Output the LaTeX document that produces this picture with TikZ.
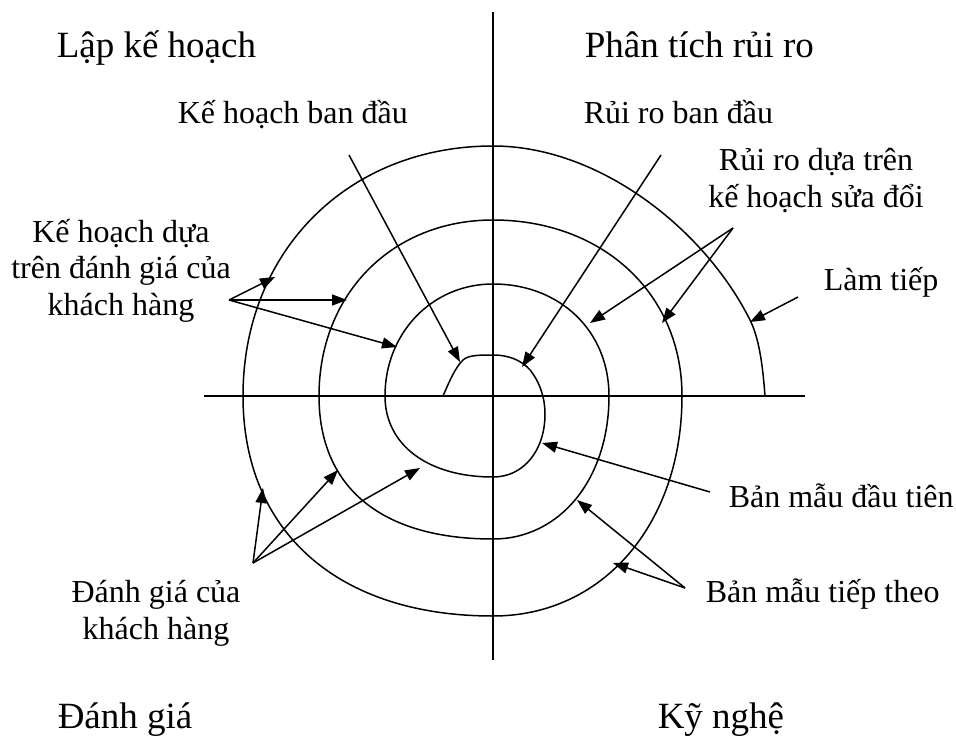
\documentclass[tikz,border=0pt]{standalone}
\usepackage{fontspec}
\setmainfont{Liberation Serif}
\usetikzlibrary{arrows.meta}
\tikzset{
  title/.style={font=\fontsize{37}{40}\selectfont,anchor=base west,inner sep=0pt},
  lbl/.style={font=\fontsize{32}{36.5}\selectfont,inner sep=0pt},
  ptr/.style={-{Triangle[length=15pt,width=11pt]}}
}
\begin{document}
\begin{tikzpicture}[x=1pt,y=-1pt,line width=1.5pt]
  \useasboundingbox (0,0) rectangle (956,736);
  \draw (493,12) -- (493,660);
  \draw (204,396) -- (805,396);

  \node[title] (plan) at (56,57) {Lập kế hoạch};
  \node[title] (risk) at (584,57) {Phân tích rủi ro};
  \node[title] (eval) at (57,728) {Đánh giá};
  \node[title] (eng) at (657,728) {Kỹ nghệ};

  \node[lbl,anchor=base west] (kbd) at (177,123) {Kế hoạch ban đầu};
  \node[lbl,anchor=base west] (rbd) at (583,123) {Rủi ro ban đầu};
  \node[lbl,align=center,anchor=base] (rdt) at (816,207) {Rủi ro dựa trên\\kế hoạch sửa đổi};
  \node[lbl,anchor=base west] (ltp) at (823,290) {Làm tiếp};
  \node[lbl,align=center,anchor=base] (khd) at (121,315) {Kế hoạch dựa\\trên đánh giá của\\khách hàng};
  \node[lbl,align=center,anchor=base] (dgk) at (156,639) {Đánh giá của\\khách hàng};
  \node[lbl,anchor=base west] (bmd) at (728,507) {Bản mẫu đầu tiên};
  \node[lbl,anchor=base west] (bmt) at (705,602) {Bản mẫu tiếp theo};

  % spiral
  \draw (443,396) .. controls (450,380) and (455,368) .. (463,360)
    .. controls (468,355) and (480,355) .. (493,355)
    .. controls (513,355) and (527,364) .. (533,374)
    .. controls (540,384) and (545,398) .. (545,414)
    .. controls (545,450) and (524,477) .. (493,477)
    .. controls (428,477) and (385,445) .. (385,396)
    .. controls (385,333) and (432,284) .. (493,284)
    .. controls (560,284) and (609,331) .. (609,396)
    .. controls (609,479) and (560,539) .. (493,539)
    .. controls (382,539) and (319,488) .. (319,396)
    .. controls (319,294) and (392,220) .. (493,220)
    .. controls (603,220) and (682,294) .. (682,396)
    .. controls (682,524) and (603,616) .. (493,616)
    .. controls (338,616) and (243,532) .. (243,396)
    .. controls (243,251) and (348,146) .. (493,146)
    .. controls (600,146) and (705,230) .. (750,320)
    .. controls (760,340) and (763,370) .. (765,396);

  \coordinate (kbS) at (349,155); \coordinate (kbT) at (460,362);
  \coordinate (rbS) at (661,155); \coordinate (rbT) at (522,367);
  \coordinate (kdO) at (229,300);
  \coordinate (kd1) at (275,277); \coordinate (kd2) at (347,300); \coordinate (kd3) at (397,347);
  \coordinate (rdO) at (733,228);
  \coordinate (rd1) at (590,323); \coordinate (rd2) at (662,323);
  \coordinate (ltS) at (798,297); \coordinate (ltT) at (750,322);
  \coordinate (bmS) at (710,492); \coordinate (bmT) at (542,443);
  \coordinate (btO) at (685,588);
  \coordinate (bt1) at (577,500); \coordinate (bt2) at (613,563);
  \coordinate (dgO) at (253,563);
  \coordinate (dg1) at (263,488); \coordinate (dg2) at (338,470); \coordinate (dg3) at (420,468);

  \draw[ptr] (kbS) -- (kbT);
  \draw[ptr] (rbS) -- (rbT);
  \draw[ptr] (ltS) -- (ltT);
  \draw[ptr] (bmS) -- (bmT);
  \foreach \t in {kd1,kd2,kd3} \draw[ptr] (kdO) -- (\t);
  \foreach \t in {rd1,rd2} \draw[ptr] (rdO) -- (\t);
  \foreach \t in {bt1,bt2} \draw[ptr] (btO) -- (\t);
  \foreach \t in {dg1,dg2,dg3} \draw[ptr] (dgO) -- (\t);
\end{tikzpicture}
\end{document}
